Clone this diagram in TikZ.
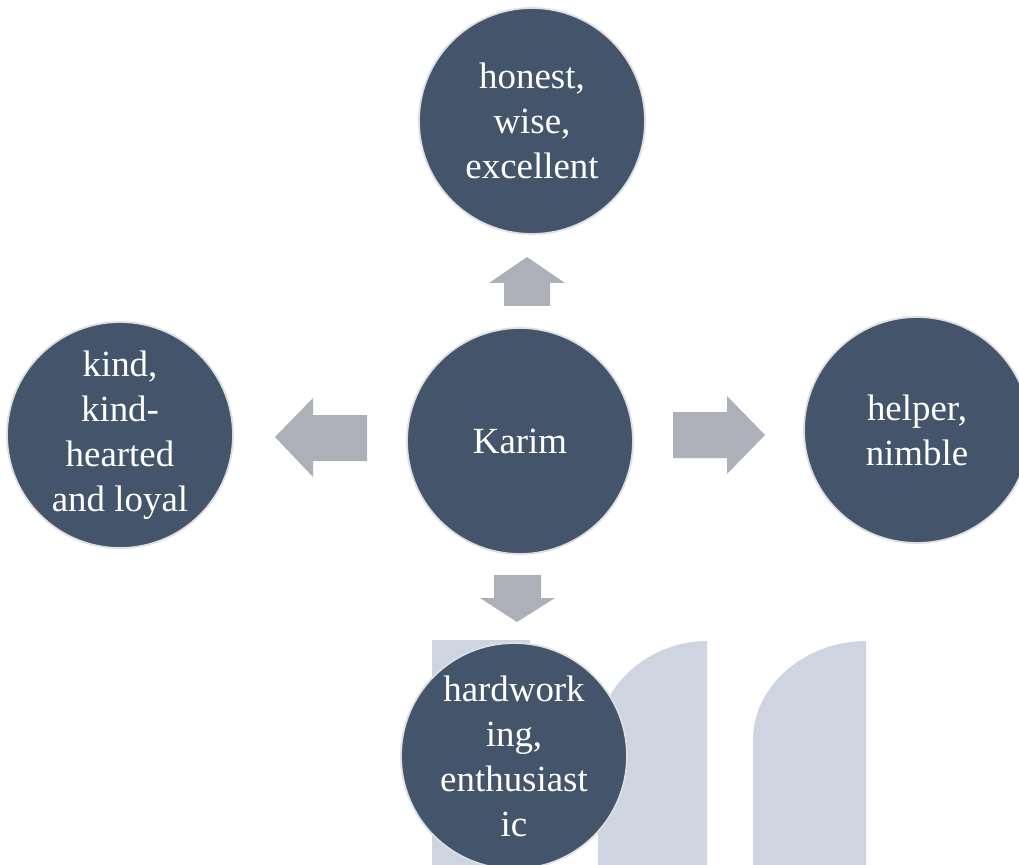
\documentclass[tikz,border=0pt]{standalone}
\usepackage{fontspec}
\setmainfont{Liberation Serif}
\usepackage{tikz}

\definecolor{slate}{HTML}{44546A}
\definecolor{rimgrey}{HTML}{DCDEE2}
\definecolor{arrowgrey}{HTML}{ADB0B8}
\definecolor{markblue}{HTML}{CED5E0}

\tikzset{
  trait/.style={circle, fill=slate, draw=rimgrey, line width=1pt,
    minimum size=4.52cm, inner sep=0pt, text=white, align=center,
    font=\fontsize{21}{25.6}\selectfont},
  blockarrow/.style={fill=arrowgrey},
  mark/.style={fill=markblue}
}

\begin{document}
\begin{tikzpicture}[x=0.02cm,y=-0.02cm]
      \useasboundingbox[fill=white] (0,0) rectangle (1019,865);
      % faint logo in the back
      \fill[markblue] (432,640) rectangle (530,865);
      \fill[markblue] (598,865) -- (598,740) .. controls (598,685) and (650,641) .. (707,641) -- (707,865) -- cycle;
      \fill[markblue] (753,865) -- (753,740) .. controls (753,685) and (806,641) .. (866,641) -- (866,865) -- cycle;
      % circles
      \node[trait] (karim) at (520,441) {Karim};
      \node[trait] (top) at (532,121) {honest,\\wise,\\excellent};
      \node[trait] (left) at (120,435) {kind,\\kind-\\hearted\\and loyal};
      \node[trait] (right) at (917,430) {helper,\\nimble};
      \node[trait] (bottom) at (514,756) {hardwork\\ing,\\enthusiast\\ic};
      % block arrows
      \fill[blockarrow] (504,306) -- (504,283) -- (489,283) -- (527,257) -- (565,283) -- (550,283) -- (550,306) -- cycle;
      \fill[blockarrow] (367,415) -- (313,415) -- (313,398) -- (275,437) -- (313,477) -- (313,461) -- (367,461) -- cycle;
      \fill[blockarrow] (673,412) -- (727,412) -- (727,396) -- (765,435) -- (727,474) -- (727,458) -- (673,458) -- cycle;
      \fill[blockarrow] (494,575) -- (541,575) -- (541,598) -- (555,598) -- (517,622) -- (480,598) -- (494,598) -- cycle;
    \end{tikzpicture}
\end{document}
